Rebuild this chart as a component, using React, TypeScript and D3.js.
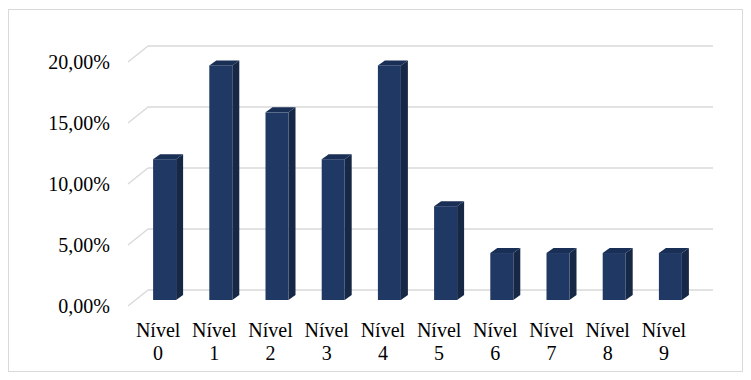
import React from "react";
import * as d3 from "d3";

const categories = ["0", "1", "2", "3", "4", "5", "6", "7", "8", "9"];
const values = [11.54, 19.23, 15.38, 11.54, 19.23, 7.69, 3.85, 3.85, 3.85, 3.85];
const yTicks = [0, 5, 10, 15, 20];
const tickLabel = (v: number) => v.toFixed(2).replace(".", ",") + "%";

export default function App() {
  const W = 751, H = 380;
  const frontLeft = 130, frontRight = 692;
  const depthX = 20, depthY = -16;
  const x = d3.scaleBand<string>().domain(categories).range([frontLeft, frontRight]);
  const yFront = d3.scaleLinear().domain([0, 20]).range([306, 62]);
  const barDX = 10, barDY = -8 + 2; // bars sit mid-depth
  const barW = 23, bDx = 7, bDy = -5;
  const grid = "#d9d9d9";
  const font = "'Liberation Serif', 'Times New Roman', serif";
  return (
    <svg width={W} height={H} style={{ position: "absolute", left: 0, top: 0 }}>
      <rect x={8.5} y={9.5} width={734} height={362} fill="#fff" stroke={grid} strokeWidth={1} />
      {yTicks.map((t) => {
        const fy = yFront(t);
        return (
          <g key={t}>
            <line x1={frontLeft - 2} y1={fy} x2={frontLeft - 2 + depthX} y2={fy + depthY} stroke={grid} strokeWidth={1.5} />
            <line x1={frontLeft - 2 + depthX} y1={fy + depthY} x2={frontRight + depthX + 1} y2={fy + depthY} stroke={grid} strokeWidth={1.5} />
            <text x={110} y={fy} dy="0.35em" textAnchor="end" fontFamily={font} fontSize={20} fill="#000">
              {tickLabel(t)}
            </text>
          </g>
        );
      })}
      {values.map((v, i) => {
        const bx = (x(categories[i]) as number) + x.bandwidth() / 2 - 5;
        const y0 = yFront(0) + barDY;
        const y1 = yFront(v) + barDY;
        const l = bx, r = bx + barW;
        return (
          <g key={i}>
            <polygon points={`${r},${y1} ${r + bDx},${y1 + bDy} ${r + bDx},${y0 + bDy} ${r},${y0}`} fill="#172846" />
            <polygon points={`${l},${y1} ${l + bDx},${y1 + bDy} ${r + bDx},${y1 + bDy} ${r},${y1}`} fill="#1a2f55" />
            <rect x={l} y={y1} width={barW} height={y0 - y1} fill="#203864" />
          </g>
        );
      })}
      {categories.map((c) => {
        const cx = (x(c) as number) + x.bandwidth() / 2;
        return (
          <text key={c} x={cx} y={330} textAnchor="middle" fontFamily={font} fontSize={20} fill="#000">
            <tspan x={cx} dy="0.35em">Nível</tspan>
            <tspan x={cx} dy="23">{c}</tspan>
          </text>
        );
      })}
    </svg>
  );
}
